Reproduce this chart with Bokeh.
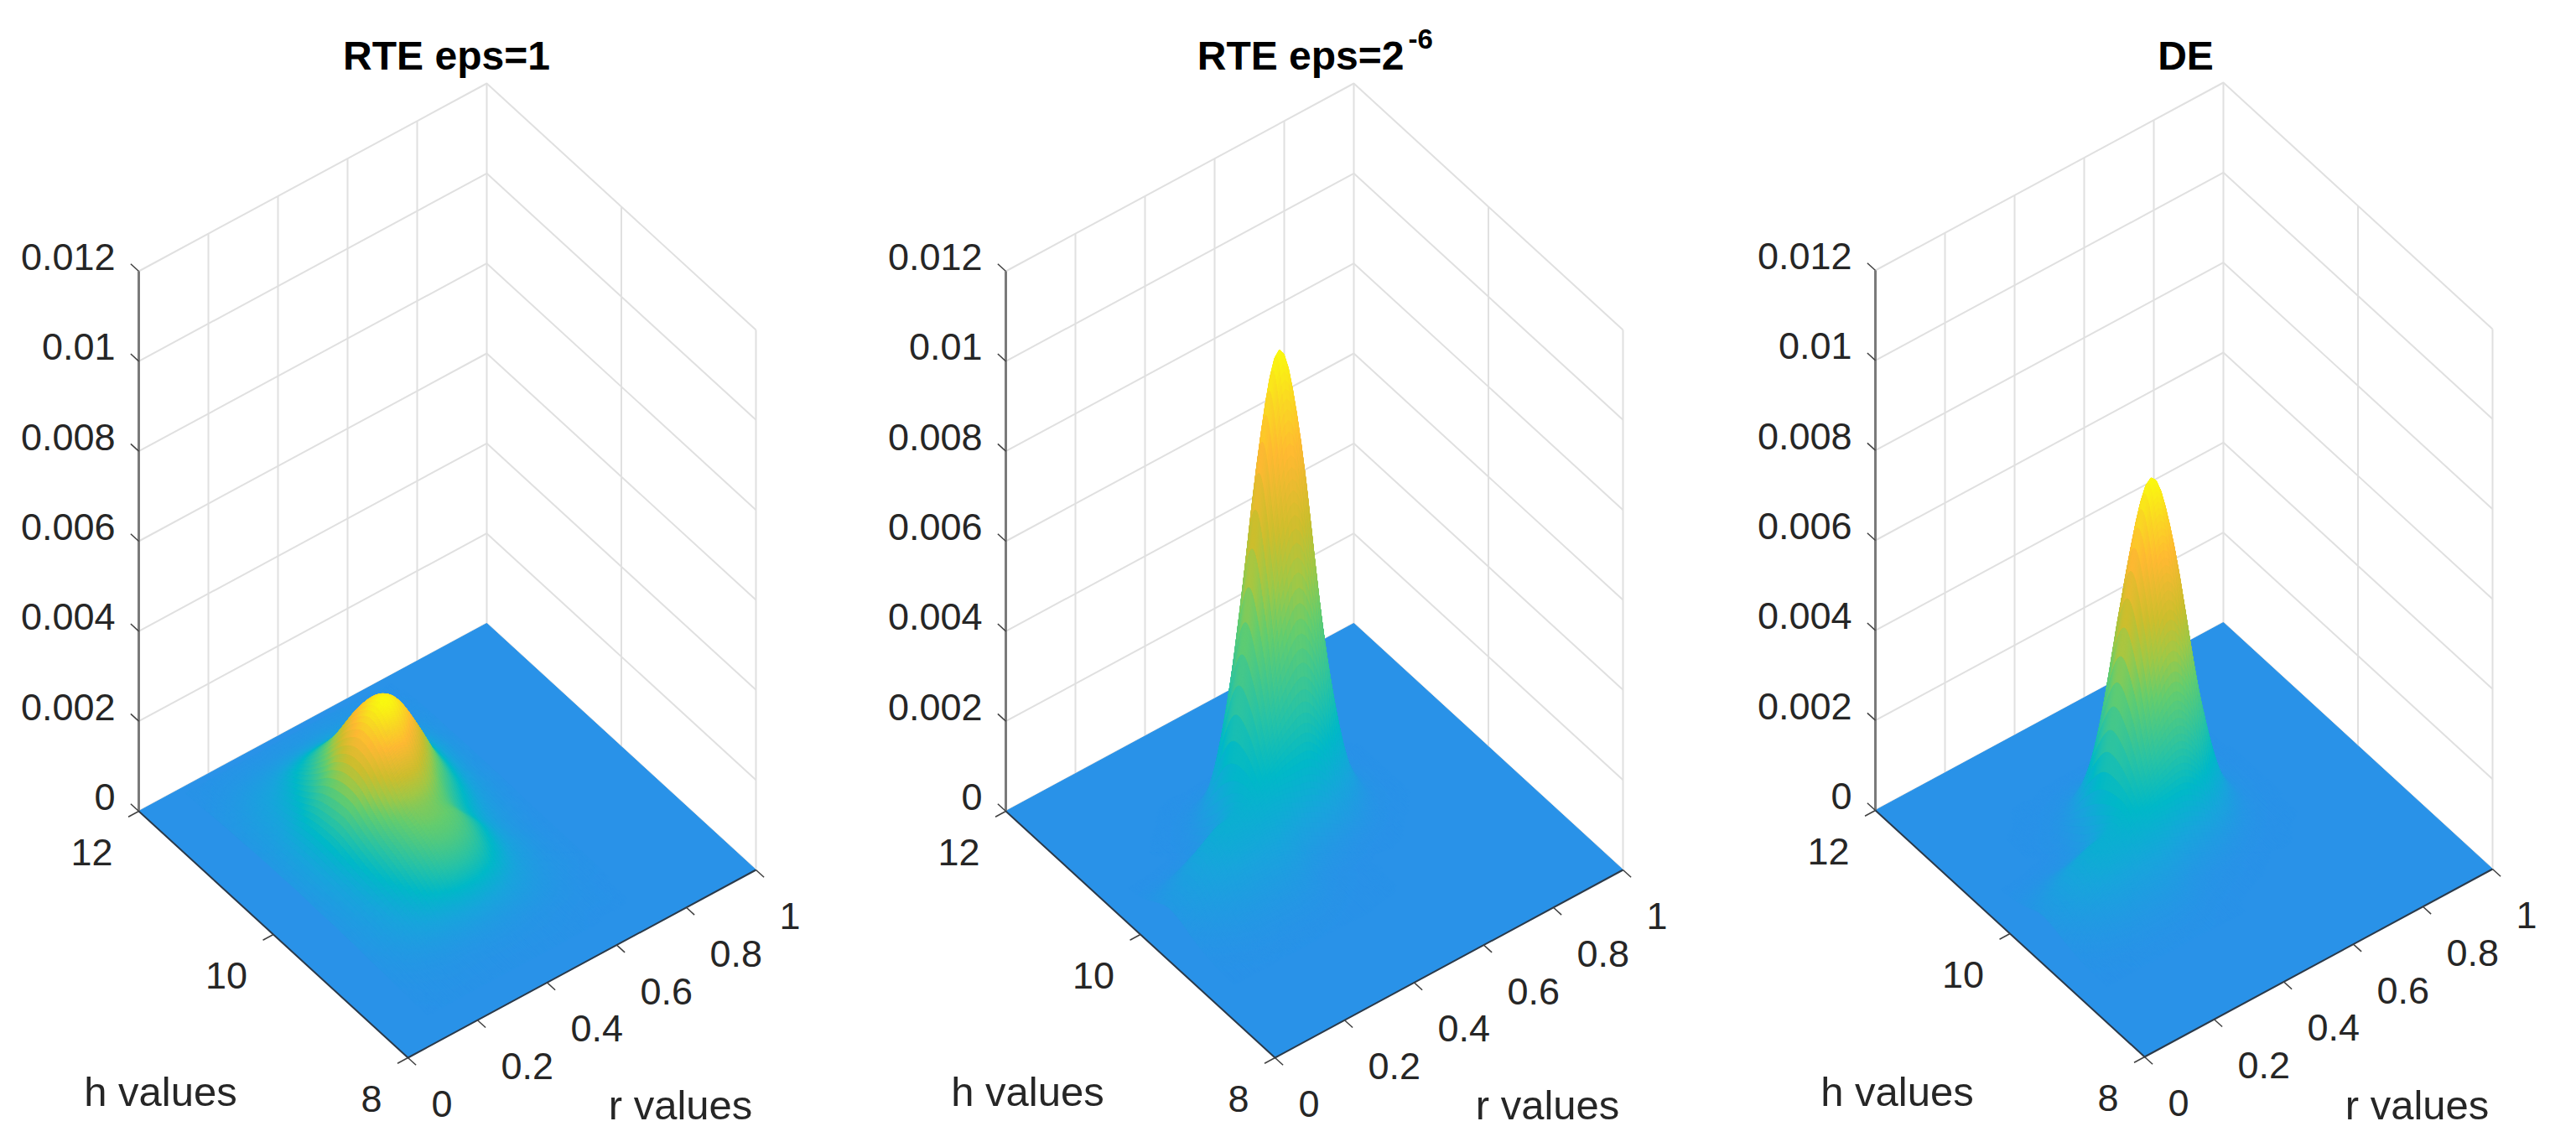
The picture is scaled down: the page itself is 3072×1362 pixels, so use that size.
from bokeh.core.properties import value
from bokeh.embed import file_html
from bokeh.layouts import row
from bokeh.models import Range1d
from bokeh.plotting import figure
from bokeh.resources import INLINE
import numpy as np

# ---- chart content ----
titles = ["RTE eps=1", "RTE eps=2", "DE"]
title_superscripts = ["", "-6", ""]
z_ticks = [0, 0.002, 0.004, 0.006, 0.008, 0.01, 0.012]
z_labels = ["0", "0.002", "0.004", "0.006", "0.008", "0.01", "0.012"]
r_ticks = [0, 0.2, 0.4, 0.6, 0.8, 1]
r_labels = ["0", "0.2", "0.4", "0.6", "0.8", "1"]
h_ticks = [12, 10, 8]
h_labels = ["12", "10", "8"]
h_name = "h values"
r_name = "r values"

# Heights, in units of 1e-5, on a 0.05 r by 0.05 (of the h span) lattice.
# rows: increasing depth toward h = 8, columns: increasing r
grid_eps1 = [
    [1, 2, 3, 3, 3, 4, 4, 4, 4, 3, 1, 1, 0],
    [2, 5, 7, 9, 10, 12, 13, 14, 12, 10, 6, 3, 0],
    [5, 9, 14, 19, 26, 33, 36, 34, 29, 22, 13, 5, 2],
    [7, 13, 22, 32, 51, 69, 77, 72, 60, 41, 23, 9, 3],
    [8, 17, 28, 47, 78, 114, 132, 128, 102, 67, 34, 14, 3],
    [9, 19, 34, 64, 112, 167, 201, 194, 148, 92, 44, 17, 4],
    [10, 22, 45, 85, 150, 215, 250, 238, 178, 100, 45, 16, 4],
    [10, 25, 50, 95, 170, 240, 270, 242, 172, 92, 40, 14, 3],
    [11, 25, 50, 98, 165, 222, 236, 198, 135, 74, 32, 12, 3],
    [10, 23, 46, 85, 135, 178, 184, 150, 98, 54, 24, 9, 2],
    [9, 21, 40, 72, 110, 138, 140, 118, 76, 40, 18, 7, 1],
    [9, 19, 36, 62, 95, 122, 125, 112, 74, 36, 15, 5, 1],
    [8, 16, 30, 50, 78, 103, 108, 94, 60, 30, 14, 5, 1],
    [7, 14, 24, 38, 58, 76, 79, 66, 42, 22, 11, 4, 1],
    [5, 10, 17, 25, 32, 39, 40, 34, 24, 15, 8, 4, 1],
    [4, 7, 10, 13, 15, 17, 17, 15, 13, 9, 5, 2, 1],
    [2, 4, 5, 6, 6, 7, 7, 6, 5, 4, 3, 1, 0],
    [1, 2, 3, 3, 3, 3, 3, 3, 3, 2, 1, 1, 0],
    [0, 1, 1, 1, 1, 1, 1, 1, 1, 1, 0, 0, 0],
]
grid_eps6 = [
    [0, 0, 0, 0, 0, 0, 0, 0, 0, 0, 0, 0, 0, 0, 0],
    [0, 0, 0, 0, 0, 1, 2, 4, 5, 4, 2, 1, 0, 0, 0],
    [0, 0, 0, 0, 2, 9, 24, 44, 54, 44, 24, 9, 2, 0, 0],
    [0, 0, 0, 2, 11, 46, 126, 229, 279, 229, 126, 46, 11, 2, 0],
    [0, 0, 1, 5, 30, 124, 339, 618, 754, 618, 339, 124, 30, 5, 1],
    [5, 10, 17, 27, 62, 193, 489, 869, 1053, 862, 473, 173, 42, 7, 1],
    [23, 45, 73, 95, 120, 214, 411, 654, 768, 623, 339, 124, 30, 5, 1],
    [38, 75, 120, 152, 161, 196, 246, 289, 302, 237, 126, 46, 11, 2, 0],
    [33, 65, 104, 130, 132, 139, 128, 96, 74, 51, 24, 9, 2, 0, 0],
    [18, 35, 56, 70, 70, 71, 58, 32, 16, 8, 2, 1, 0, 0, 0],
    [8, 15, 24, 30, 30, 30, 24, 12, 5, 2, 0, 0, 0, 0, 0],
    [3, 5, 8, 10, 10, 10, 8, 4, 2, 1, 0, 0, 0, 0, 0],
    [1, 2, 2, 3, 3, 3, 2, 1, 0, 0, 0, 0, 0, 0, 0],
]
grid_de = [
    [0, 0, 0, 0, 0, 0, 0, 0, 0, 0, 0, 0, 0, 0, 0],
    [0, 0, 0, 0, 1, 2, 6, 11, 13, 11, 6, 2, 1, 0, 0],
    [0, 0, 0, 1, 3, 13, 35, 63, 77, 63, 35, 13, 3, 1, 0],
    [0, 0, 0, 2, 11, 46, 125, 227, 277, 227, 125, 46, 11, 2, 0],
    [0, 0, 1, 4, 24, 99, 269, 490, 597, 490, 269, 99, 24, 4, 1],
    [4, 8, 13, 20, 46, 142, 359, 637, 772, 632, 347, 127, 31, 5, 1],
    [15, 30, 49, 64, 84, 159, 317, 514, 606, 493, 269, 99, 24, 4, 1],
    [28, 55, 88, 112, 121, 156, 213, 271, 294, 233, 125, 46, 11, 2, 0],
    [25, 50, 80, 101, 103, 113, 115, 103, 92, 68, 35, 13, 3, 1, 0],
    [14, 28, 44, 55, 56, 57, 50, 33, 21, 14, 6, 2, 1, 0, 0],
    [6, 13, 20, 25, 25, 25, 21, 11, 6, 3, 1, 0, 0, 0, 0],
    [2, 4, 6, 8, 8, 8, 6, 3, 1, 0, 0, 0, 0, 0, 0],
    [1, 1, 2, 2, 2, 2, 2, 1, 0, 0, 0, 0, 0, 0, 0],
]

# ---- view geometry (pixels of the reference) ----
PAGE_W, PAGE_H, MARGIN = 3072, 1362, 8
SPLITS = [0, 1032, 2067, PAGE_W - 2 * MARGIN]
ORIGINS = [(165, 967), (1199, 967), (2236, 966)]
E_R = (415, -224)
E_H = (321, 294)
E_Z = -644
Z_MAX = 0.012
LATTICE = [(0.12, 0.02), (0.07, 0.16), (0.07, 0.17)]
GRIDS = [grid_eps1, grid_eps6, grid_de]
TITLE_CX = [367, 365, 370]
SUBDIV_R, SUBDIV_T = 5, 16

TEXT = "#262626"
FONT = "Liberation Sans"
TICK_PX = 45
NAME_PX = 49
TITLE_PX = 48

CMAP_POS = [0, 0.1, 0.2, 0.3, 0.45, 0.55, 0.65, 0.8, 0.9, 1]
CMAP_RGB = [(41, 146, 232), (24, 165, 220), (0, 185, 200), (40, 195, 165), (100, 205, 110),
            (160, 200, 70), (205, 190, 45), (255, 185, 50), (250, 215, 35), (250, 250, 15)]


def hex_of(v):
    return "#%02x%02x%02x" % tuple(
        int(round(np.interp(v, CMAP_POS, [c[i] for c in CMAP_RGB]))) for i in range(3))


def project(origin, r, t, z):
    r, t, z = np.asarray(r, float), np.asarray(t, float), np.asarray(z, float)
    return (origin[0] + E_R[0] * r + E_H[0] * t,
            origin[1] + E_R[1] * r + E_H[1] * t + E_Z * z / Z_MAX)


def h_frac(h):
    return (12 - np.asarray(h, float)) / 4


def smooth_rows(a, n):
    """Catmull-Rom shading between lattice rows, like a renderer's interpolated shading."""
    pad = np.vstack([a[:1] * 0, a, a[-1:] * 0])
    out = []
    for i in range(1, pad.shape[0] - 2):
        for s in np.arange(n) / n:
            p0, p1, p2, p3 = pad[i - 1], pad[i], pad[i + 1], pad[i + 2]
            out.append(0.5 * (2 * p1 + (p2 - p0) * s + (2 * p0 - 5 * p1 + 4 * p2 - p3) * s ** 2
                              + (3 * p1 - p0 - 3 * p2 + p3) * s ** 3))
    out.append(pad[-2])
    return np.array(out)


def make_panel(i):
    ox = ORIGINS[i]
    p = figure(width=SPLITS[i + 1] - SPLITS[i], height=PAGE_H - 2 * MARGIN,
               x_range=Range1d(SPLITS[i], SPLITS[i + 1]),
               y_range=Range1d(PAGE_H - 2 * MARGIN, 0),
               x_axis_type=None, y_axis_type=None, toolbar_location=None,
               output_backend="svg", min_border=0, outline_line_color=None,
               background_fill_color="white", border_fill_color="white")
    p.xgrid.visible = False
    p.ygrid.visible = False

    # back walls
    xs, ys = [], []
    for z in z_ticks:
        x, y = project(ox, [0, 1, 1], [0, 0, 1], [z, z, z])
        xs.append(list(x)); ys.append(list(y))
    for r in r_ticks[1:]:
        x, y = project(ox, [r, r], [0, 0], [0, Z_MAX])
        xs.append(list(x)); ys.append(list(y))
    for h in [10, 8]:
        t = float(h_frac(h))
        x, y = project(ox, [1, 1], [t, t], [0, Z_MAX])
        xs.append(list(x)); ys.append(list(y))
    p.multi_line(xs, ys, line_color="#e0e0e0", line_width=2)

    # floor of the surface
    fx, fy = project(ox, [0, 1, 1, 0], [0, 0, 1, 1], [0, 0, 0, 0])
    p.patch(list(fx), list(fy), fill_color=hex_of(0), line_color=hex_of(0), line_width=1)

    # surface, painted from the back to the front
    a = np.array(GRIDS[i], float) * 1e-5
    fine = smooth_rows(smooth_rows(a, SUBDIV_T).T, SUBDIV_R).T
    fine = np.clip(fine, 0, None)
    r0, t0 = LATTICE[i]
    rr = r0 + np.arange(fine.shape[1]) * 0.05 / SUBDIV_R
    tt = t0 + np.arange(fine.shape[0]) * 0.05 / SUBDIV_T
    top = fine.max()
    qx, qy, qc = [], [], []
    for k in range(fine.shape[1] - 2, -1, -1):
        for j in range(fine.shape[0] - 1):
            zs = [fine[j, k], fine[j, k + 1], fine[j + 1, k + 1], fine[j + 1, k]]
            if max(zs) < 2e-6:
                continue
            x, y = project(ox, [rr[k], rr[k + 1], rr[k + 1], rr[k]],
                           [tt[j], tt[j], tt[j + 1], tt[j + 1]], zs)
            qx.append([round(float(v), 1) for v in x]); qy.append([round(float(v), 1) for v in y])
            qc.append(hex_of(float(np.mean(zs)) / top))
    p.patches(qx, qy, fill_color=qc, line_color=qc, line_width=1)

    # axes
    x, y = project(ox, [0, 0], [0, 0], [0, Z_MAX])
    p.line(x, y, line_color="#7a7a7a", line_width=3)
    x, y = project(ox, [0, 0, 1], [0, 1, 1], [0, 0, 0])
    p.line(x, y, line_color="#2b3a4a", line_width=2)

    tx, ty = [], []
    for z in z_ticks:
        x, y = project(ox, [0, 0], [0, -0.03], [z, z])
        tx.append(list(x)); ty.append(list(y))
    for r in r_ticks:
        x, y = project(ox, [r, r], [1, 1.03], [0, 0])
        tx.append(list(x)); ty.append(list(y))
    for h in h_ticks:
        t = float(h_frac(h))
        x, y = project(ox, [0, -0.03], [t, t], [0, 0])
        tx.append(list(x)); ty.append(list(y))
    p.multi_line(tx, ty, line_color="#404040", line_width=1.5)

    def label(x, y, text, align, dx, dy):
        p.text(x=list(x), y=list(y), text=text, text_align=align, text_baseline="middle",
               x_offset=dx, y_offset=dy, text_font=value(FONT), text_font_size=f"{TICK_PX}px",
               text_color=TEXT)

    x, y = project(ox, np.zeros(len(z_ticks)), np.zeros(len(z_ticks)), z_ticks)
    label(x, y, z_labels, "right", -28, -17)
    x, y = project(ox, np.zeros(len(h_ticks)), h_frac(h_ticks), np.zeros(len(h_ticks)))
    label(x, y, h_labels, "right", -31, 49)
    x, y = project(ox, r_ticks, np.ones(len(r_ticks)), np.zeros(len(r_ticks)))
    label(x, y, r_labels, "left", 28, 55)

    nx = project(ox, 0, 0, 0)[0]
    p.text(x=[nx + 26], y=[1301], text=[h_name], text_align="center", text_baseline="middle",
           text_font=value(FONT), text_font_size=f"{NAME_PX}px", text_color=TEXT)
    p.text(x=[nx + 646], y=[1317], text=[r_name], text_align="center", text_baseline="middle",
           text_font=value(FONT), text_font_size=f"{NAME_PX}px", text_color=TEXT)

    # title with optional superscript
    cx = ox[0] + TITLE_CX[i]
    if title_superscripts[i]:
        p.text(x=[cx + 110], y=[66], text=[titles[i]], text_align="right", text_baseline="middle",
               text_font=value(FONT), text_font_size=f"{TITLE_PX}px", text_color="#000000",
               text_font_style="bold")
        p.text(x=[cx + 115], y=[46], text=[title_superscripts[i]], text_align="left", text_baseline="middle",
               text_font=value(FONT), text_font_size="33px", text_color="#000000", text_font_style="bold")
    else:
        p.text(x=[cx], y=[66], text=[titles[i]], text_align="center", text_baseline="middle",
               text_font=value(FONT), text_font_size=f"{TITLE_PX}px", text_color="#000000",
               text_font_style="bold")
    return p


layout = row(*[make_panel(i) for i in range(3)], spacing=0)
open("out.html", "w").write(file_html(layout, INLINE))
